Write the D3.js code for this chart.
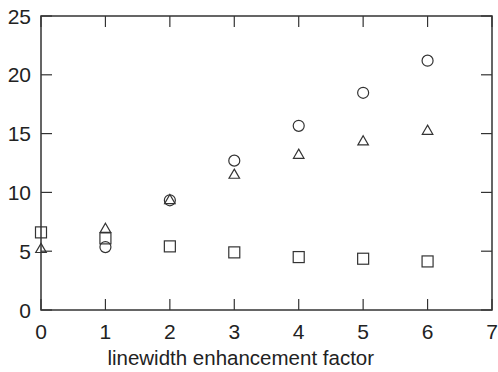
<!DOCTYPE html>
<html>
<head>
<meta charset="utf-8">
<script src="https://cdn.jsdelivr.net/npm/d3@7"></script>
<style>
  body { margin: 0; background: #fff; }
  text { font-family: "Liberation Sans", Arial, sans-serif; fill: #222; }
</style>
</head>
<body>
<script>
var width = 498,
    height = 372;

// data
var xValues = [0, 1, 2, 3, 4, 5, 6];
var circleVals = [null, 5.35, 9.33, 12.7, 15.66, 18.47, 21.2];
var triangleVals = [5.15, 6.86, 9.3, 11.46, 13.16, 14.3, 15.2];
var squareVals = [6.6, 6.09, 5.41, 4.9, 4.5, 4.36, 4.13];
var xTicks = [0, 1, 2, 3, 4, 5, 6, 7];
var yTicks = [0, 5, 10, 15, 20, 25];
var xLabel = 'linewidth enhancement factor';

var margin = {top: 16, right: 6, bottom: 62, left: 41};

var svg = d3.select('body')
  .append('svg')
  .attr('width', width)
  .attr('height', height);

var x = d3.scaleLinear()
  .domain([0, 7])
  .range([margin.left, width - margin.right]);

var y = d3.scaleLinear()
  .domain([0, 25])
  .range([height - margin.bottom, margin.top]);

var ink = '#333';

// frame with inward ticks on all four sides
var g = svg.append('g');

g.append('rect')
  .attr('x', x(0))
  .attr('y', y(25))
  .attr('width', x(7) - x(0))
  .attr('height', y(0) - y(25))
  .attr('fill', 'none')
  .attr('stroke', ink)
  .attr('stroke-width', 1.5);

var tickLen = 11;

xTicks.forEach(function(t) {
  g.append('line')
    .attr('x1', x(t)).attr('x2', x(t))
    .attr('y1', y(0)).attr('y2', y(0) - tickLen)
    .attr('stroke', ink).attr('stroke-width', 1.2);
  g.append('line')
    .attr('x1', x(t)).attr('x2', x(t))
    .attr('y1', y(25)).attr('y2', y(25) + tickLen)
    .attr('stroke', ink).attr('stroke-width', 1.2);
  g.append('text')
    .attr('x', x(t))
    .attr('y', y(0) + 28.5)
    .attr('text-anchor', 'middle')
    .style('font-size', '21px')
    .text(t);
});

yTicks.forEach(function(t) {
  g.append('line')
    .attr('x1', x(0)).attr('x2', x(0) + tickLen)
    .attr('y1', y(t)).attr('y2', y(t))
    .attr('stroke', ink).attr('stroke-width', 1.2);
  g.append('line')
    .attr('x1', x(7)).attr('x2', x(7) - tickLen)
    .attr('y1', y(t)).attr('y2', y(t))
    .attr('stroke', ink).attr('stroke-width', 1.2);
  g.append('text')
    .attr('x', x(0) - 10)
    .attr('y', y(t))
    .attr('dy', '0.36em')
    .attr('text-anchor', 'end')
    .style('font-size', '21px')
    .text(t);
});

// the title sits left of the plot centre in the original
svg.append('text')
  .attr('x', x(3.1))
  .attr('y', height - 7)
  .attr('text-anchor', 'middle')
  .style('font-size', '20.5px')
  .text(xLabel);

// markers
function series(vals) {
  return xValues.map(function(d, i) { return {x: d, y: vals[i]}; })
    .filter(function(d) { return d.y != null; });
}

var pts = svg.append('g')
  .attr('fill', 'none')
  .attr('stroke', ink)
  .attr('stroke-width', 1.2);

pts.selectAll('.sq')
  .data(series(squareVals))
  .enter().append('rect')
  .attr('class', 'sq')
  .attr('x', function(d) { return x(d.x) - 5.5; })
  .attr('y', function(d) { return y(d.y) - 5.5; })
  .attr('width', 11)
  .attr('height', 11);

pts.selectAll('.ci')
  .data(series(circleVals))
  .enter().append('circle')
  .attr('class', 'ci')
  .attr('cx', function(d) { return x(d.x); })
  .attr('cy', function(d) { return y(d.y); })
  .attr('r', 5.5);

var tri = d3.symbol().type(d3.symbolTriangle).size(48);

pts.selectAll('.tr')
  .data(series(triangleVals))
  .enter().append('path')
  .attr('class', 'tr')
  .attr('d', tri)
  .attr('transform', function(d) {
    return 'translate(' + x(d.x) + ',' + y(d.y) + ')';
  });
</script>
</body>
</html>
